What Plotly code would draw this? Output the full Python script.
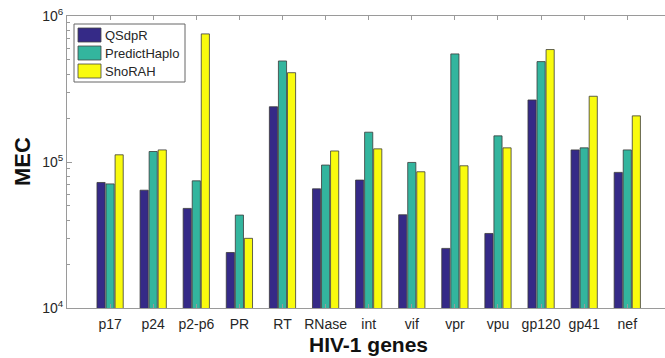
import plotly.graph_objects as go

genes = ["p17", "p24", "p2-p6", "PR", "RT", "RNase", "int", "vif", "vpr", "vpu", "gp120", "gp41", "nef"]
qsdpr = [72400, 64100, 48100, 24000, 239000, 65500, 75200, 43500, 25600, 32400, 266000, 121000, 84900]
predicthaplo = [70800, 118000, 74300, 43300, 492000, 95300, 160000, 99300, 550000, 151000, 487000, 125000, 121000]
shorah = [112000, 121000, 754000, 30000, 409000, 119000, 123000, 85700, 94200, 125000, 589000, 282000, 207000]
series_names = ["QSdpR", "PredictHaplo", "ShoRAH"]
colors = ["#352a87", "#33b59e", "#f9fb0e"]
y_major = [1e4, 1e5, 1e6]
y_major_text = ["10<sup>4</sup>", "10<sup>5</sup>", "10<sup>6</sup>"]

W, H = 665, 358
L, R, T, B = 67, 0, 16, 50
PW, PH = W - L - R, H - T - B

def px(xpix):
    return (xpix - L) / PW

def py(ypix):
    return (H - B - ypix) / PH

x = list(range(1, len(genes) + 1))
minor_vals = [m * 10 ** e for e in (4, 5) for m in range(2, 10)]

fig = go.Figure()
for name, vals, c in zip(series_names, [qsdpr, predicthaplo, shorah], colors):
    fig.add_trace(go.Bar(x=x, y=vals, name=name, showlegend=False,
                         marker=dict(color=c, line=dict(color="#3a3a3a", width=0.8))))

axis_col = "#9a9a9a"
fig.update_layout(
    width=W, height=H,
    margin=dict(l=L, r=R, t=T, b=B),
    paper_bgcolor="white", plot_bgcolor="white",
    barmode="group", bargap=0.37, bargroupgap=0.1,
    font=dict(family="Liberation Sans, Arial, sans-serif", color="#262626", size=13),
    showlegend=False,
    xaxis=dict(range=[0, 13.875], tickmode="array", tickvals=x, ticktext=genes,
               showline=True, linecolor=axis_col, linewidth=1, mirror="allticks",
               ticks="inside", ticklen=4, tickcolor=axis_col, showgrid=False, zeroline=False,
               tickfont=dict(size=14), automargin=False, ticklabelstandoff=3),
    yaxis=dict(type="log", range=[4, 6], tickmode="array", tickvals=y_major, ticktext=y_major_text,
               showline=True, linecolor=axis_col, linewidth=1, mirror=False,
               ticks="inside", ticklen=5, tickcolor=axis_col, showgrid=False, zeroline=False,
               tickfont=dict(size=14), automargin=False,
               minor=dict(tickmode="array", tickvals=minor_vals, ticks="inside", ticklen=3,
                          tickcolor=axis_col, showgrid=False)),
)

# axis titles
fig.add_annotation(text="<b>MEC</b>", xref="paper", yref="paper", x=px(22), y=py(162),
                   textangle=-90, showarrow=False, font=dict(size=22, color="#111"),
                   xanchor="center", yanchor="middle")
fig.add_annotation(text="<b>HIV-1 genes</b>", xref="paper", yref="paper", x=px(368), y=py(344),
                   showarrow=False, font=dict(size=21, color="#111"),
                   xanchor="center", yanchor="middle")

# legend box
fig.add_shape(type="rect", xref="paper", yref="paper", x0=px(74), x1=px(185), y0=py(82), y1=py(24),
              line=dict(color="#666", width=1), fillcolor="white", layer="above")
for i, (name, c) in enumerate(zip(series_names, colors)):
    top = 28 + 18 * i
    fig.add_shape(type="rect", xref="paper", yref="paper", x0=px(78), x1=px(101),
                  y0=py(top + 14), y1=py(top), line=dict(color="#444", width=0.8),
                  fillcolor=c, layer="above")
    fig.add_annotation(text=name, xref="paper", yref="paper", x=px(103), y=py(top + 7.5),
                       showarrow=False, xanchor="left", yanchor="middle",
                       font=dict(size=13, color="#262626"))

fig.write_html("out.html", config={"displayModeBar": False},
               post_script="document.body.style.margin='0';document.body.style.overflow='hidden';")
